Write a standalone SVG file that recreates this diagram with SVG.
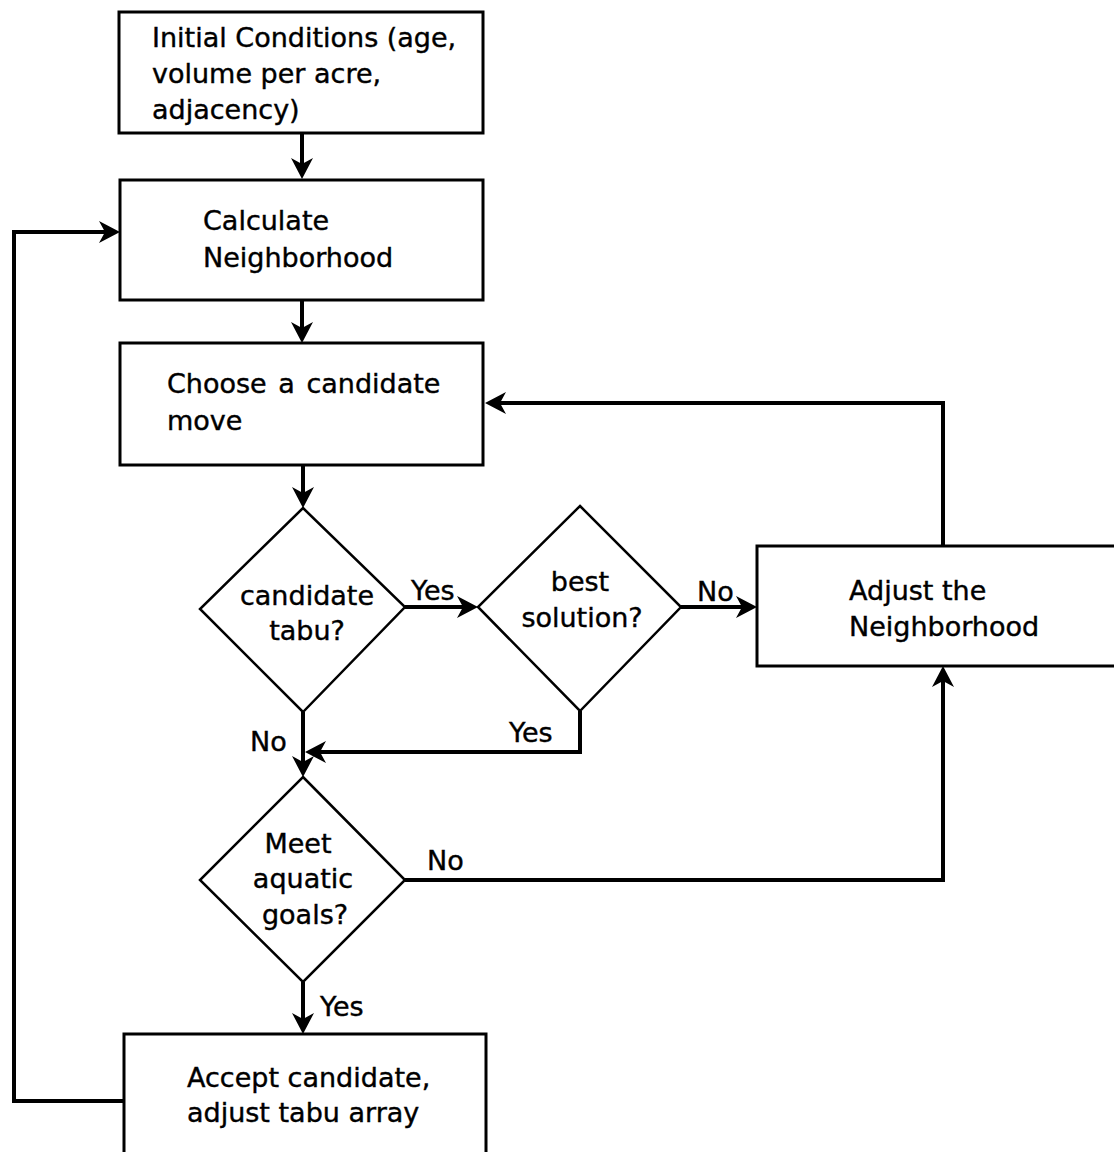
<svg xmlns="http://www.w3.org/2000/svg" width="1114" height="1152" viewBox="0 0 1114 1152">
  <style>
    .box { fill: #fff; stroke: #000; stroke-width: 3; }
    .dia { fill: #fff; stroke: #000; stroke-width: 2.5; stroke-linejoin: miter; }
    .lbl { font-family: "DejaVu Sans", "Liberation Sans", sans-serif; font-size: 27px; fill: #000; stroke: #000; stroke-width: 0.4; }
    .mid { text-anchor: middle; }
    .edge { fill: none; stroke: #000; stroke-width: 4; stroke-linejoin: miter; marker-end: url(#arrow); }
  </style>
  <defs>
    <marker id="arrow" viewBox="-18 -13 26 26" markerWidth="26" markerHeight="26" refX="0" refY="0" markerUnits="userSpaceOnUse" orient="auto">
      <path d="M6,0 L-15,-11 L-9,0 L-15,11 Z" fill="#000"/>
    </marker>
  </defs>
  <rect width="1114" height="1152" fill="#fff"/>

  <g id="connectors">
    <path class="edge" d="M302,133 V173"/>
    <path class="edge" d="M302,300 V337"/>
    <path class="edge" d="M303,465 V502"/>
    <path class="edge" d="M405,607 H472"/>
    <path class="edge" d="M681,607 H751"/>
    <path class="edge" d="M943,546 V403 H491"/>
    <path class="edge" d="M303,712 V771"/>
    <path class="edge" d="M580,711 V752 H311"/>
    <path class="edge" d="M405,880 H943 V672"/>
    <path class="edge" d="M303,982 V1028"/>
    <path class="edge" d="M125,1101 H14 V232 H114"/>
    <text class="lbl" x="411" y="600">Yes</text>
    <text class="lbl" x="697" y="601">No</text>
    <text class="lbl" x="250" y="751">No</text>
    <text class="lbl" x="509" y="742">Yes</text>
    <text class="lbl" x="427" y="870">No</text>
    <text class="lbl" x="320" y="1016">Yes</text>
  </g>

  <g id="initial-conditions">
    <rect class="box" x="119" y="12" width="364" height="121"/>
    <text class="lbl" x="152" y="47">Initial Conditions (age,</text>
    <text class="lbl" x="152" y="83">volume per acre,</text>
    <text class="lbl" x="152" y="119">adjacency)</text>
  </g>

  <g id="calculate-neighborhood">
    <rect class="box" x="120" y="180" width="363" height="120"/>
    <text class="lbl" x="203" y="230">Calculate</text>
    <text class="lbl" x="203" y="267">Neighborhood</text>
  </g>

  <g id="choose-move">
    <rect class="box" x="120" y="343" width="363" height="122"/>
    <text class="lbl" x="167" y="393" word-spacing="3">Choose a candidate</text>
    <text class="lbl" x="167" y="430">move</text>
  </g>

  <g id="candidate-tabu">
    <polygon class="dia" points="303,508 405,607 303,712 200,609"/>
    <text class="lbl mid" x="307" y="605">candidate</text>
    <text class="lbl mid" x="307" y="640">tabu?</text>
  </g>

  <g id="best-solution">
    <polygon class="dia" points="580,506 681,607 580,711 478,607"/>
    <text class="lbl mid" x="580" y="591">best</text>
    <text class="lbl mid" x="582" y="627">solution?</text>
  </g>

  <g id="adjust-neighborhood">
    <rect class="box" x="757" y="546" width="370" height="120"/>
    <text class="lbl" x="849" y="600">Adjust the</text>
    <text class="lbl" x="849" y="636">Neighborhood</text>
  </g>

  <g id="aquatic-goals">
    <polygon class="dia" points="303,777 405,880 303,982 200,880"/>
    <text class="lbl mid" x="298" y="853">Meet</text>
    <text class="lbl mid" x="303" y="888">aquatic</text>
    <text class="lbl mid" x="305" y="924">goals?</text>
  </g>

  <g id="accept-candidate">
    <rect class="box" x="124" y="1034" width="362" height="130"/>
    <text class="lbl" x="187" y="1087">Accept candidate,</text>
    <text class="lbl" x="187" y="1122">adjust tabu array</text>
  </g>
</svg>
